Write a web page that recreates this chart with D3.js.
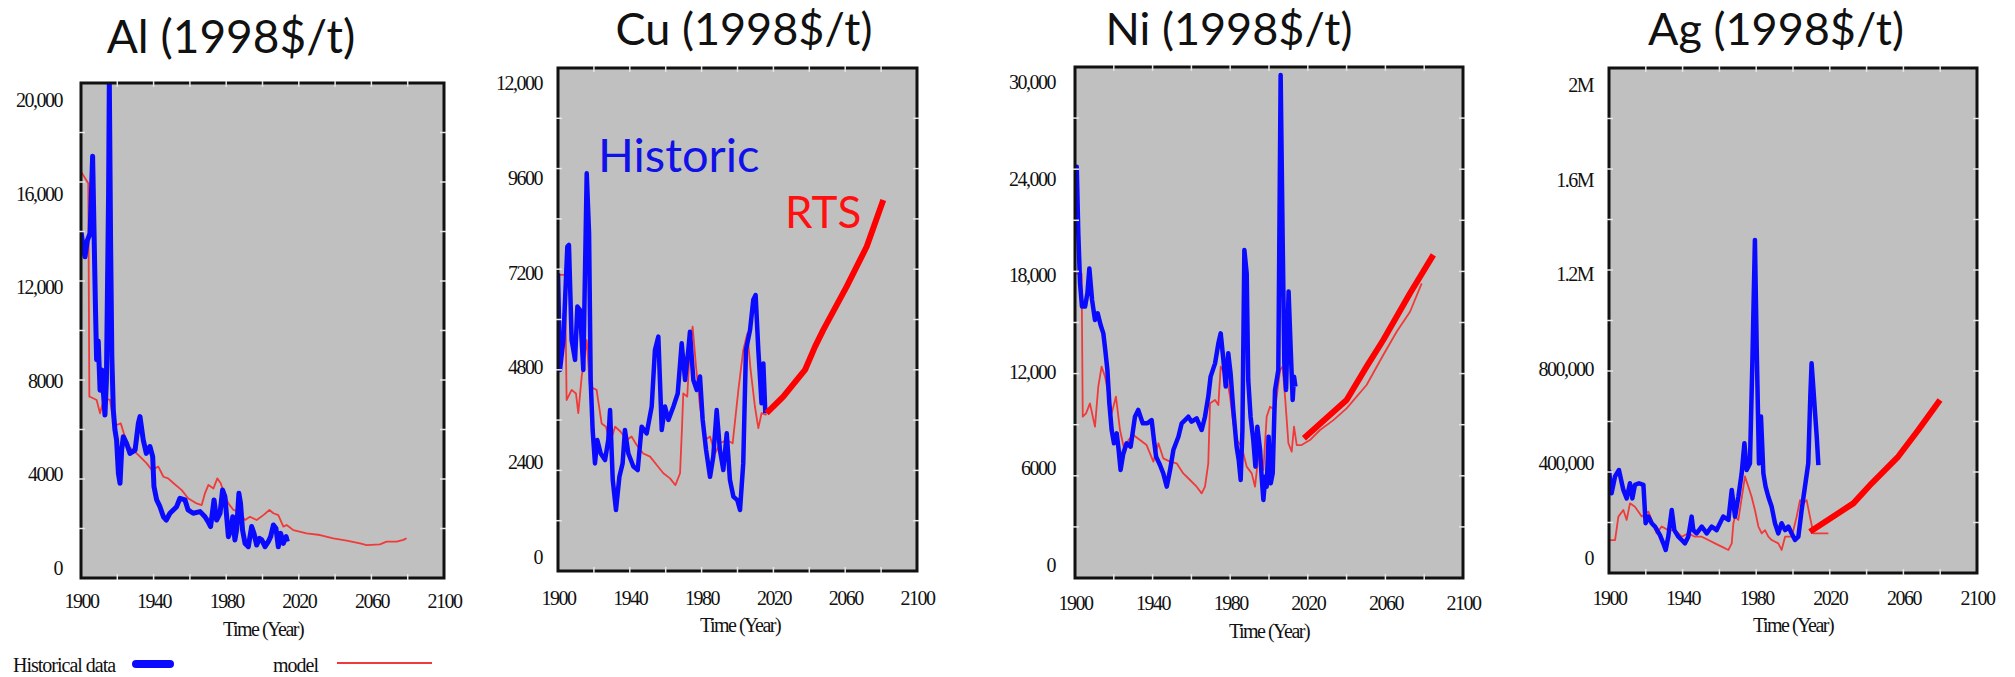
<!DOCTYPE html>
<html>
<head>
<meta charset="utf-8">
<script src="https://cdn.jsdelivr.net/npm/d3@7"></script>
<style>
	body { margin: 0; background: #fff; }
	svg { display: block; }
</style>
</head>
<body>
<svg id="chart" width="2015" height="677"></svg>
<script>
// [year, 1998$/t]
const alHistorical = [[1900,14400],[1901,13800],[1902.2,13300],[1903.5,14000],[1905,14300],[1906.4,17600],[1908,11000],[1908.6,8900],[1909.5,9700],[1910.5,7600],[1911.5,8460],[1913.2,6540],[1914,8030],[1915.2,16000],[1915.6,20800],[1916.3,14000],[1917,9000],[1917.8,6750],[1918.7,5900],[1919.6,5470],[1920.6,4050],[1921.5,3620],[1922.4,5040],[1923.3,5610],[1925.1,5330],[1927,4900],[1929.8,5040],[1931.6,6180],[1932.5,6470],[1934.3,5470],[1936,4900],[1938,5190],[1939.5,4760],[1940.2,3480],[1941.7,2910],[1943.5,2620],[1945.4,2190],[1947,2050],[1949,2340],[1952.7,2620],[1954.5,2980],[1957.3,2910],[1959,2480],[1961.8,2340],[1965.6,2410],[1968.3,2190],[1970,1980],[1971.4,1770],[1973.3,2910],[1974.7,2050],[1976.6,2340],[1978,3330],[1979.3,3050],[1981.2,1340],[1982.5,1620],[1983.6,2190],[1984.8,1200],[1985.7,1620],[1987,3190],[1987.9,2760],[1989,1620],[1990.4,1050],[1992.2,910],[1994,1770],[1995.3,1480],[1996.8,980],[1998.3,1270],[1999.6,1200],[2001.4,910],[2003.2,1130],[2004.5,1340],[2006,1840],[2007.4,1700],[2008.7,910],[2010,1480],[2011.5,1050],[2013,1340],[2013.7,1130]];
const alModel = [[1900,16940],[1904,16440],[1904.6,7320],[1905,7320],[1908.6,7180],[1910.5,6610],[1911.5,6900],[1912.7,7250],[1916,7180],[1917.8,6325],[1919.7,6110],[1921.9,6180],[1924.2,5610],[1926,5190],[1928.8,5040],[1932.5,4760],[1936.2,4470],[1939,4190],[1942.6,4330],[1945.4,3900],[1948,3830],[1951,3620],[1955.5,3330],[1959,2980],[1963.7,2760],[1966.5,2690],[1968.3,3190],[1970.2,3550],[1973,3400],[1975.1,3830],[1977,3620],[1978.8,3190],[1981.2,2760],[1984,2480],[1986.7,2410],[1990.4,2050],[1993.1,2190],[1996.8,2050],[2000.5,2260],[2003.8,2480],[2006,2340],[2008.7,2260],[2011.5,1770],[2013.3,1840],[2017,1620],[2024.3,1480],[2031.7,1410],[2039,1270],[2046.4,1170],[2053.7,1050],[2057.4,980],[2064.7,1010],[2068.4,1130],[2073.9,1130],[2077.6,1200],[2079.4,1270]];

const cuHistorical = [[1900,7180],[1901.1,4735],[1903,5490],[1905.2,7860],[1906.1,7900],[1907.6,5490],[1909.5,4990],[1910.8,6340],[1912.3,6250],[1914.1,4735],[1916,9715],[1917.3,8200],[1918.2,4480],[1919.3,3215],[1920.6,2370],[1921.9,2960],[1923.8,2620],[1926.2,2455],[1928,2960],[1929,3720],[1930.5,1950],[1932.3,1190],[1934.2,2030],[1936,2370],[1937.3,3215],[1939.2,2620],[1942,2290],[1944.4,2200],[1946.6,3300],[1949.4,3130],[1952.2,3810],[1954,5240],[1955.9,5580],[1957.8,3215],[1959.6,3810],[1961.5,3470],[1964.3,3810],[1966.7,4140],[1968.9,5410],[1970.8,4480],[1972.6,5240],[1973.5,5700],[1975.4,4480],[1977.3,4230],[1979.1,4570],[1980.6,3470],[1982.5,2710],[1984.7,2030],[1986.5,2540],[1988.4,3720],[1990.2,2710],[1992.1,2200],[1994,3130],[1995.8,1950],[1997.7,1530],[1999.9,1440],[2001.4,1190],[2003.2,2370],[2004.7,5240],[2007,5750],[2008.8,6510],[2010.1,6630],[2011.6,5240],[2013.4,3890],[2014.4,4900],[2015.5,3640]];
const cuModel = [[1900,7140],[1903.9,7140],[1904.8,3975],[1907.6,4230],[1910,4140],[1911.3,3640],[1913.2,4570],[1916,5490],[1917.8,4310],[1921.5,4230],[1924.3,3380],[1926.7,3300],[1929,2880],[1931.8,3300],[1934.9,3170],[1938.3,2960],[1941,3050],[1943.8,2835],[1947.5,2620],[1951.3,2540],[1955,2330],[1958.7,2120],[1962.4,1990],[1965.4,1820],[1968,2120],[1969.1,3300],[1969.8,4140],[1972,4060],[1973.5,5325],[1975,5830],[1976.9,4820],[1979.1,3810],[1981.9,2960],[1984.7,3050],[1987.5,2620],[1990.2,2880],[1994,2960],[1997.3,2880],[2000.5,4230],[2003.2,5240],[2005.5,5660],[2007.3,4735],[2009.7,3810],[2011.6,3260],[2013.4,3640],[2016.2,3600]];
const cuRTS = [[2016.2,3640],[2025.5,4060],[2037.6,4735],[2043.2,5325],[2047.8,5750],[2060.8,6845],[2072,7860],[2081.2,9040]];

const niHistorical = [[1900,22250],[1900.9,24740],[1901.7,20600],[1902.6,17510],[1903.6,16050],[1905.2,16050],[1906.4,16880],[1907.4,18420],[1908.8,16460],[1910.3,15220],[1911.7,15630],[1913.2,14910],[1914.6,14390],[1915.6,13350],[1916.7,12110],[1917.7,10040],[1918.9,8385],[1920.1,7560],[1921.5,8180],[1922.5,7140],[1923.5,5900],[1924.9,6940],[1926.6,7560],[1928.7,7350],[1930.9,9210],[1932.6,9630],[1934.9,8800],[1937.3,8800],[1939.5,9000],[1940.7,7760],[1941.8,6730],[1943.8,6210],[1945.5,5690],[1947.3,4865],[1949,5900],[1950.7,7140],[1953.3,7970],[1955,8800],[1956.7,9000],[1958.4,9210],[1960.1,8900],[1962.7,9110],[1965.3,8385],[1967,9210],[1968.7,10455],[1969.9,11700],[1972.2,12525],[1973.9,13770],[1975.1,14390],[1976.5,12730],[1977.7,11080],[1979,13150],[1980.2,11900],[1981.6,9630],[1983.3,7350],[1984.4,6520],[1985.4,5280],[1986.3,8385],[1987.3,19565],[1988.5,18115],[1989.3,11490],[1990.5,9210],[1991.9,7760],[1993,6110],[1994,8590],[1995.4,7140],[1996.2,5490],[1997.1,4040],[1998.1,5490],[1998.8,4865],[1999.8,7970],[2000.9,5070],[2001.9,5690],[2003.1,10870],[2004.8,12110],[2006,30430],[2007,20600],[2007.9,12525],[2008.8,10870],[2010.1,16980],[2011.2,13350],[2012.2,10250],[2012.9,11700],[2013.6,11080]];
const niModel = [[1900,18100],[1903.4,18100],[1904,9210],[1905.7,9420],[1907.7,10040],[1910.3,8590],[1912,11080],[1913.7,12320],[1915.5,11700],[1918.9,9420],[1921.1,10455],[1923.2,8385],[1925.8,6940],[1927.5,7760],[1930.1,8075],[1933.5,7760],[1936.9,7450],[1940.4,6420],[1943,7560],[1945.5,6625],[1949,6420],[1952.4,6315],[1955.8,5690],[1959.3,5280],[1962.7,4865],[1965.3,4450],[1967,4865],[1968.7,6315],[1969.6,10040],[1972.2,10250],[1973.9,9940],[1975.1,12320],[1978.2,11700],[1979.9,10455],[1981.6,8800],[1983.3,7760],[1985.9,7350],[1988.5,6110],[1991.1,5690],[1992.8,4865],[1994.5,6730],[1997.1,5900],[1998.8,9210],[2000.5,9830],[2003.1,9630],[2005.7,12110],[2007,12320],[2008.4,10250],[2010,7560],[2011.7,7040],[2012.9,8590],[2014.3,7450],[2016.8,7450],[2021.1,7760],[2026.3,8385],[2033.2,9000],[2040,9730],[2050.3,11180],[2058.9,13040],[2065.8,14490],[2072.7,15730],[2078.7,17490]];
const niRTS = [[2018,7870],[2040,10250],[2050.3,12320],[2058.9,13975],[2072.7,16880],[2084.7,19260]];

const agHistorical = [[1900,372000],[1901.4,274000],[1903.3,345000],[1905.4,372000],[1907.8,288000],[1909.6,252000],[1911.4,316000],[1912.7,252000],[1914.1,309000],[1916.3,316000],[1918.7,309000],[1919.9,147000],[1921.4,175000],[1923.2,147000],[1925,133000],[1927.7,97000],[1929.5,62000],[1930.8,34000],[1932.2,90000],[1934.1,203000],[1935.5,118000],[1937.7,90000],[1939.5,76000],[1941.3,62000],[1943.1,90000],[1944.9,175000],[1945.8,118000],[1947.6,104000],[1950.4,133000],[1953.1,104000],[1955.8,133000],[1958.5,118000],[1960.3,147000],[1962.1,175000],[1964.9,161000],[1966.7,288000],[1968.5,175000],[1970.3,259000],[1972.1,358000],[1973.6,485000],[1974.8,372000],[1976.6,400000],[1977.9,823000],[1979.3,1345000],[1980.3,879000],[1981.5,400000],[1982.6,598000],[1983.9,358000],[1985.1,302000],[1986.6,259000],[1988.4,217000],[1990.2,147000],[1992,104000],[1993.8,147000],[1995.7,118000],[1997.5,133000],[1999.3,104000],[2001.1,76000],[2002.9,90000],[2004.7,203000],[2006.5,302000],[2008.3,400000],[2009.4,682000],[2010.1,823000],[2011,724000],[2012,612000],[2012.9,513000],[2013.8,393000]];
const agModel = [[1900,76000],[1903.3,76000],[1905.1,175000],[1907.8,203000],[1909.6,161000],[1911.4,231000],[1914.1,217000],[1917.8,175000],[1921.4,196000],[1923.2,161000],[1925.9,104000],[1928.6,133000],[1932.2,118000],[1935.9,118000],[1939.5,90000],[1943.1,104000],[1946.7,90000],[1950.4,90000],[1954,76000],[1957.6,62000],[1961.2,48000],[1964.9,34000],[1966.7,62000],[1967.6,147000],[1968.5,175000],[1970.3,161000],[1973.9,345000],[1975.7,302000],[1977.5,259000],[1979.3,203000],[1981.2,133000],[1983,104000],[1984.8,118000],[1986.6,90000],[1988.4,76000],[1992,62000],[1993.8,34000],[1995.7,90000],[1999.3,90000],[2002,175000],[2003.8,245000],[2005.6,231000],[2007.4,245000],[2009.2,175000],[2011.1,104000],[2013.8,104000],[2019.2,104000]];
const agRTS = [[2009.2,111000],[2032.8,231000],[2042.8,316000],[2057.2,429000],[2068.1,541000],[2079.9,668000]];

const xTickYears = [1900, 1940, 1980, 2020, 2060, 2100];
const alTicks = [0, 4000, 8000, 12000, 16000, 20000];
const cuTicks = [0, 2400, 4800, 7200, 9600, 12000];
const niTicks = [0, 6000, 12000, 18000, 24000, 30000];
const agTicks = [0, 400000, 800000, 1200000, 1600000, 2000000];

const panels = [
	{ title: 'Al (1998$/t)', hist: alHistorical, model: alModel, rts: null, ticks: alTicks,
		frame: [81, 83, 444, 578], labelRange: [568, 100], yPad: 19, titleX: 231, titleY: 53, titleSize: 46, xLabelY: 608, timeX: 263, timeY: 636, histWidth: 5 },
	{ title: 'Cu (1998$/t)', hist: cuHistorical, model: cuModel, rts: cuRTS, ticks: cuTicks,
		frame: [558, 68, 917, 571], labelRange: [557, 83], yPad: 16, titleX: 744, titleY: 45, titleSize: 45, xLabelY: 605, timeX: 740, timeY: 632, histWidth: 4.5 },
	{ title: 'Ni (1998$/t)', hist: niHistorical, model: niModel, rts: niRTS, ticks: niTicks,
		frame: [1075, 67, 1463, 578], labelRange: [565, 82], yPad: 20, titleX: 1229, titleY: 45, titleSize: 45, xLabelY: 610, timeX: 1269, timeY: 638, histWidth: 4.5 },
	{ title: 'Ag (1998$/t)', hist: agHistorical, model: agModel, rts: agRTS, ticks: agTicks,
		frame: [1609, 68, 1977, 573], labelRange: [558, 85], yPad: 16, titleX: 1776, titleY: 45, titleSize: 45, xLabelY: 605, timeX: 1793, timeY: 632, histWidth: 4.5 }
];

const blue = '#0a0aff';
const red = '#ff0000';
const thinRed = '#f03a3a';
const axisFont = '"Liberation Serif", "Times New Roman", serif';
const titleFont = 'Lato, "Noto Sans", sans-serif';

const fmt = v => v >= 1e6 ? (v / 1e6) + 'M' : v >= 10000 ? d3.format(',')(v) : String(v);

const svg = d3.select('#chart');

panels.forEach((p, i) => {
	const [x0, y0, x1, y1] = p.frame;
	const x = d3.scaleLinear().domain([1900, 2100]).range([x0, x1]);
	const y = d3.scaleLinear().domain([0, p.ticks[p.ticks.length - 1]]).range(p.labelRange);
	const g = svg.append('g');

	g.append('text')
		.attr('x', p.titleX)
		.attr('y', p.titleY)
		.attr('text-anchor', 'middle')
		.style('font-family', titleFont)
		.style('font-size', p.titleSize + 'px')
		.attr('fill', '#111')
		.text(p.title);

	g.append('rect')
		.attr('x', x0).attr('y', y0)
		.attr('width', x1 - x0).attr('height', y1 - y0)
		.attr('fill', '#c0c0c0');

	svg.append('clipPath')
		.attr('id', 'clip' + i)
		.append('rect')
		.attr('x', x0).attr('y', y0)
		.attr('width', x1 - x0).attr('height', y1 - y0);

	const line = d3.line().x(d => x(d[0])).y(d => y(d[1]));
	const plot = g.append('g').attr('clip-path', `url(#clip${i})`);

	plot.append('path')
		.datum(p.model)
		.attr('d', line)
		.attr('fill', 'none')
		.attr('stroke', thinRed)
		.attr('stroke-width', 1.8)
		.attr('stroke-linejoin', 'round');

	plot.append('path')
		.datum(p.hist)
		.attr('d', line)
		.attr('fill', 'none')
		.attr('stroke', blue)
		.attr('stroke-width', p.histWidth)
		.attr('stroke-linejoin', 'round');

	if (p.rts) {
		plot.append('path')
			.datum(p.rts)
			.attr('d', line)
			.attr('fill', 'none')
			.attr('stroke', red)
			.attr('stroke-width', 6)
			.attr('stroke-linejoin', 'round');
	}

	// frame with small light grid ticks on it
	g.append('rect')
		.attr('x', x0).attr('y', y0)
		.attr('width', x1 - x0).attr('height', y1 - y0)
		.attr('fill', 'none')
		.attr('stroke', '#111')
		.attr('stroke-width', 3);

	const fx = d3.range(1, 10).map(k => x0 + (x1 - x0) * k / 10);
	const fy = d3.range(1, 10).map(k => y0 + (y1 - y0) * k / 10);
	const marks = g.append('g')
		.attr('stroke', '#e6e6e6')
		.attr('stroke-width', 1.5);
	fx.forEach(v => {
		marks.append('line').attr('x1', v).attr('x2', v).attr('y1', y0 - 2).attr('y2', y0 + 4);
		marks.append('line').attr('x1', v).attr('x2', v).attr('y1', y1 - 4).attr('y2', y1 + 2);
	});
	fy.forEach(v => {
		marks.append('line').attr('y1', v).attr('y2', v).attr('x1', x0 - 2).attr('x2', x0 + 4);
		marks.append('line').attr('y1', v).attr('y2', v).attr('x1', x1 - 4).attr('x2', x1 + 2);
	});

	const xAxis = g.append('g')
		.attr('transform', `translate(0, ${y1})`)
		.call(d3.axisBottom(x).tickValues(xTickYears).tickFormat(d3.format('d')).tickSize(0).tickPadding(p.xLabelY - y1 - 14.2));
	const yAxis = g.append('g')
		.attr('transform', `translate(${x0}, 0)`)
		.call(d3.axisLeft(y).tickValues(p.ticks).tickFormat(fmt).tickSize(0).tickPadding(p.yPad));

	[xAxis, yAxis].forEach(a => {
		a.select('.domain').remove();
		a.attr('font-family', axisFont).attr('font-size', 20);
		a.selectAll('text').attr('fill', '#111').style('letter-spacing', '-1.5px');
	});

	g.append('text')
		.attr('x', p.timeX)
		.attr('y', p.timeY)
		.attr('text-anchor', 'middle')
		.style('font-family', axisFont)
		.style('font-size', '20px')
		.style('letter-spacing', '-1.5px')
		.attr('fill', '#111')
		.text('Time (Year)');
});

// labels drawn on the copper panel
svg.append('text')
	.attr('x', 598).attr('y', 172)
	.style('font-family', titleFont)
	.style('font-size', '47px')
	.attr('fill', '#1010e8')
	.text('Historic');
svg.append('text')
	.attr('x', 785).attr('y', 228)
	.style('font-family', titleFont)
	.style('font-size', '44px')
	.attr('fill', '#ff1010')
	.text('RTS');

// legend under the aluminium panel
const legend = svg.append('g');
legend.append('text')
	.attr('x', 13).attr('y', 672)
	.style('font-family', axisFont).style('font-size', '20px').style('letter-spacing', '-1px')
	.attr('fill', '#111')
	.text('Historical data');
legend.append('line')
	.attr('x1', 136).attr('x2', 170).attr('y1', 664).attr('y2', 664)
	.attr('stroke', blue).attr('stroke-width', 8).attr('stroke-linecap', 'round');
legend.append('text')
	.attr('x', 273).attr('y', 672)
	.style('font-family', axisFont).style('font-size', '20px').style('letter-spacing', '-1px')
	.attr('fill', '#111')
	.text('model');
legend.append('line')
	.attr('x1', 337).attr('x2', 432).attr('y1', 663).attr('y2', 663)
	.attr('stroke', thinRed).attr('stroke-width', 2);
</script>
</body>
</html>
